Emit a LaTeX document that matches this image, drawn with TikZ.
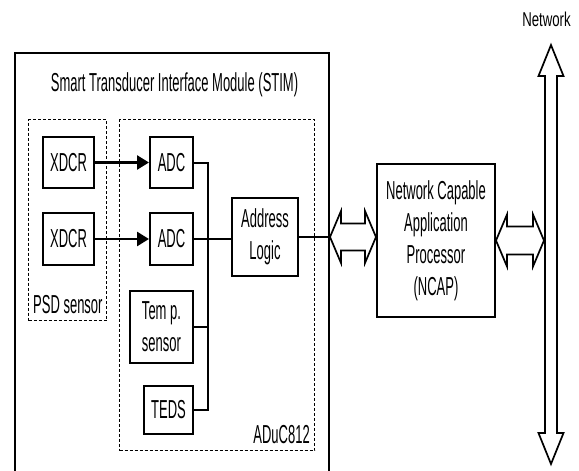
\documentclass[tikz,border=0pt]{standalone}
\usepackage{fontspec}
\newfontfamily\narrowsans{Liberation Sans}[FakeStretch=0.5]
\newfontfamily\netsans{Liberation Sans}[FakeStretch=0.66]
\usetikzlibrary{calc,arrows.meta}

% hollow double-headed arrows: #1,#2 tips, #3 half shaft, #4 half head, #5 head length
\newcommand\hdarrow[5]{%
  \draw[hollow] (#1) -- ($(#1)+(#5,-#4)$) -- ($(#1)+(#5,-#3)$) -- ($(#2)+(-#5,-#3)$)
    -- ($(#2)+(-#5,-#4)$) -- (#2) -- ($(#2)+(-#5,#4)$) -- ($(#2)+(-#5,#3)$)
    -- ($(#1)+(#5,#3)$) -- ($(#1)+(#5,#4)$) -- cycle;}
\newcommand\vdarrow[5]{%
  \draw[hollow] (#1) -- ($(#1)+(-#4,#5)$) -- ($(#1)+(-#3,#5)$) -- ($(#2)+(-#3,-#5)$)
    -- ($(#2)+(-#4,-#5)$) -- (#2) -- ($(#2)+(#4,-#5)$) -- ($(#2)+(#3,-#5)$)
    -- ($(#1)+(#3,#5)$) -- ($(#1)+(#4,#5)$) -- cycle;}

\begin{document}
\begin{tikzpicture}[x=1pt,y=-1pt,
  lbl/.style={font=\narrowsans\fontsize{26}{32}\selectfont,inner sep=0pt},
  box/.style={draw,line width=2pt,inner sep=0pt,align=center,
    font=\narrowsans\fontsize{26}{32}\selectfont},
  area/.style={draw,line width=1.4pt,dash pattern=on 3pt off 2pt,inner sep=0pt},
  wire/.style={line width=2pt},
  feed/.style={line width=2.6pt,-{Triangle[length=12pt,width=14pt]}},
  hollow/.style={draw,line width=1.7pt,fill=white,line join=miter}]

\clip (0,0) rectangle (579,471);
\fill[white] (0,0) rectangle (579,471);

% STIM enclosure (open below the page edge)
\node[draw,line width=2pt,minimum width=314,minimum height=440,anchor=north west] (stim) at (14,52) {};
\node[lbl,anchor=base] (title) at (174.5,91) {Smart Transducer Interface Module (STIM)};

% dashed groups
\node[area,minimum width=78,minimum height=201,anchor=north west] (psd) at (28,119) {};
\node[lbl,anchor=base west] (psdlbl) at (33,313) {PSD sensor};
\node[area,minimum width=195,minimum height=331,anchor=north west] (aduc) at (119,119) {};
\node[lbl,anchor=base east] (aduclbl) at (310,443) {ADuC812};

% blocks
\node[box,minimum width=51,minimum height=51] (x1) at (68.5,162.5) {XDCR};
\node[box,minimum width=51,minimum height=52] (x2) at (68.5,239) {XDCR};
\node[box,minimum width=43,minimum height=51] (adc1) at (171.5,162.5) {ADC};
\node[box,minimum width=43,minimum height=52] (adc2) at (171.5,239) {ADC};
\node[box,minimum width=66,minimum height=78] (addr) at (265,237) {Address\\Logic};
\node[box,minimum width=63,minimum height=72] (temp) at (161.5,327) {Tem p.\\sensor};
\node[box,minimum width=49,minimum height=48] (teds) at (168.5,410) {TEDS};
\node[box,minimum width=118,minimum height=153] (ncap) at (436,240.5)
  {Network Capable\\Application\\Processor\\(NCAP)};

% sensor to converter links
\draw[feed] (x1) -- (adc1);
\draw[feed] (x2) -- (adc2);

% internal bus
\coordinate (busx) at (208,0);
\draw[wire] (adc1.east) -- (adc1.east -| busx) -- (teds.east -| busx) -- (teds.east);
\draw[wire] (temp.east) -- (temp.east -| busx);
\draw[wire] (adc2.east) -- (adc2.east -| addr.west);
\draw[wire] (addr.east) -- (addr.east -| stim.east);

% network side
\node[font=\netsans\fontsize{20}{24}\selectfont,inner sep=0pt,anchor=base] (netlbl) at (546.5,26.7) {Network};
\coordinate (nt) at (551,45);
\coordinate (nb) at (551,464);
\vdarrow{nt}{nb}{6}{12.5}{31}

\coordinate (la) at (stim.east |- addr.east);
\coordinate (lb) at (ncap.west |- addr.east);
\hdarrow{la}{lb}{13.5}{26}{11}

\coordinate (ra) at (ncap.east);
\coordinate (rb) at ($(ncap.east -| nt)+(-7,0)$);
\hdarrow{ra}{rb}{14}{26}{11}
\end{tikzpicture}
\end{document}
